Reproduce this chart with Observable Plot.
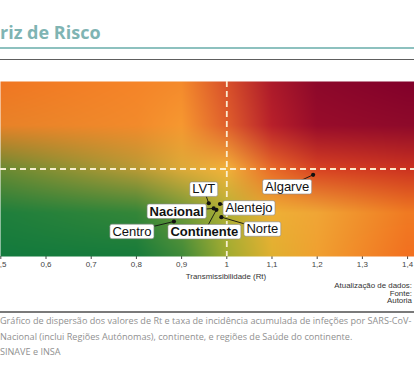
<!DOCTYPE html>
<html>
<head>
<meta charset="utf-8">
<script src="https://cdn.jsdelivr.net/npm/d3@7"></script>
<script src="https://cdn.jsdelivr.net/npm/@observablehq/plot@0.6"></script>
<style>
html, body { margin: 0; padding: 0; background: #fff; }
body { width: 414px; height: 371px; overflow: hidden; position: relative; font-family: "Open Sans", sans-serif; }
#title { position: absolute; left: 0; top: 19px; font-size: 18px; font-weight: 700; color: #7fb4b3; white-space: nowrap; line-height: 26px; }
#rule1 { position: absolute; left: 0; top: 47px; width: 414px; height: 2px; background: #8dc1bf; }
#rule2 { position: absolute; left: 0; top: 59px; width: 414px; height: 1px; background: #5e5e5e; }
#chart { position: absolute; left: 0; top: 81px; }
#xlabel { position: absolute; top: 272px; left: 226px; transform: translateX(-50%); font-family: "Liberation Sans", Arial, sans-serif; font-size: 7.9px; color: #333; white-space: nowrap; }
#notes { position: absolute; top: 282px; right: 2px; text-align: right; font-family: "Liberation Sans", Arial, sans-serif; font-size: 7.9px; line-height: 7.6px; color: #333; }
#rule3 { position: absolute; left: 0; top: 311px; width: 414px; height: 2px; background: #7a7a7a; }
#caption { position: absolute; left: 0; top: 313px; width: 414px; font-size: 9.1px; line-height: 15.5px; color: #909090; white-space: nowrap; }
</style>
</head>
<body>
<div id="title"></div>
<div id="rule1"></div>
<div id="rule2"></div>
<div id="chart"></div>
<div id="xlabel"></div>
<div id="notes"></div>
<div id="rule3"></div>
<div id="caption"></div>
<script>
// ---- data ----
const titleText = "riz de Risco";
const regions = ["Algarve", "LVT", "Alentejo", "Nacional", "Continente", "Norte", "Centro"];
const rtValues = [1.191, 0.960, 0.985, 0.971, 0.977, 0.988, 0.883];
const incidenceValues = [112, 73, 72, 66, 64, 54, 48];
const aggregates = ["Nacional", "Continente"];
const rtThreshold = 1;
const incidenceThreshold = 120;
const xTicks = [0.5, 0.6, 0.7, 0.8, 0.9, 1, 1.1, 1.2, 1.3, 1.4];
const xAxisLabel = "Transmissibilidade (Rt)";
const notesLines = ["Atualização de dados:", "Fonte:", "Autoria"];
const captionLines = [
  "Gráfico de dispersão dos valores de Rt e taxa de incidência acumulada de infeções por SARS-CoV-",
  "Nacional (inclui Regiões Autónomas), continente, e regiões de Saúde do continente.",
  "SINAVE e INSA"
];
// background risk gradient: colour grid (rows: incidence, columns: Rt)
const gradRt = [0.5, 0.8, 0.9, 1.0, 1.1, 1.2, 1.4];
const gradInc = [0, 60, 120, 180, 240];
const gradColors = [
  ["#137a3d", "#177b3b", "#3e8a38", "#a0ab30", "#e0b030", "#f0a030", "#f27020"],
  ["#1f7f3c", "#348638", "#6a9838", "#b0b035", "#eeb035", "#f0a535", "#f07a22"],
  ["#6a8a32", "#b89a35", "#dcaa38", "#f2b23a", "#e86a28", "#d84222", "#cc3320"],
  ["#e88228", "#f28a2b", "#f69830", "#e0602c", "#b8202a", "#980c2a", "#8e0a2a"],
  ["#f07622", "#f58428", "#f48a2c", "#d8502a", "#ac1a2a", "#8c082a", "#82002a"]
];
// label nudges in pixels (layout of the repelled labels)
const labelNudge = [[-26, 12], [-5, -14], [29, 4], [-37, 3], [-12, 22], [41, 12], [-42, 10]];

// ---- layout ----
const W = 414, plotH = 175, marginBottom = 30;
const xDomain = [0.4993, 1.4153];
const yDomain = [0, 240];
const xs = d3.scaleLinear(xDomain, [0, W]);
const ys = d3.scaleLinear(yDomain, [plotH, 0]);

const rgbGrid = gradColors.map(r => r.map(c => d3.rgb(c)));
function locate(arr, v) {
  if (v <= arr[0]) return [0, 0];
  for (let i = 0; i < arr.length - 1; i++) {
    if (v <= arr[i + 1]) return [i, (v - arr[i]) / (arr[i + 1] - arr[i])];
  }
  return [arr.length - 2, 1];
}
function bg(x, y) {
  const [i, tx] = locate(gradRt, x);
  const [j, ty] = locate(gradInc, y);
  const c00 = rgbGrid[j][i], c01 = rgbGrid[j][i + 1], c10 = rgbGrid[j + 1][i], c11 = rgbGrid[j + 1][i + 1];
  const mix = k => (c00[k] * (1 - tx) + c01[k] * tx) * (1 - ty) + (c10[k] * (1 - tx) + c11[k] * tx) * ty;
  return `rgb(${Math.round(mix("r"))},${Math.round(mix("g"))},${Math.round(mix("b"))})`;
}

const rows = regions.map((name, i) => {
  const px = xs(rtValues[i]) + labelNudge[i][0];
  const py = ys(incidenceValues[i]) + labelNudge[i][1];
  return {name, rt: rtValues[i], inc: incidenceValues[i], lx: xs.invert(px), ly: ys.invert(py), bold: aggregates.includes(name)};
});

const fmt = d => String(d).replace(".", ",");

const chart = Plot.plot({
  width: W,
  height: plotH + marginBottom,
  marginLeft: 0, marginRight: 0, marginTop: 0, marginBottom,
  x: {domain: xDomain, ticks: xTicks, tickFormat: fmt, tickSize: 3, tickPadding: 2, label: null},
  y: {domain: yDomain, axis: null},
  color: {type: "identity"},
  style: {fontFamily: "'Liberation Sans', Arial, sans-serif", fontSize: "8px", color: "#444", background: "transparent"},
  marks: [
    Plot.raster({fill: bg, x1: xDomain[0], x2: xDomain[1], y1: yDomain[0], y2: yDomain[1], pixelSize: 1}),
    Plot.ruleX([rtThreshold], {stroke: "#fbf3d9", strokeWidth: 1.8, strokeDasharray: "6,4", strokeOpacity: 0.95}),
    Plot.ruleY([incidenceThreshold], {stroke: "#fbf3d9", strokeWidth: 1.8, strokeDasharray: "6,4", strokeOpacity: 0.95}),
    Plot.link(rows, {x1: "rt", y1: "inc", x2: "lx", y2: "ly", stroke: "#111", strokeWidth: 0.9}),
    Plot.dot(rows, {x: "rt", y: "inc", r: 2.1, fill: "#111", stroke: "none"}),
    Plot.text(rows.filter(d => !d.bold), {x: "lx", y: "ly", text: "name", fontSize: 13, fill: "#111", className: "lbl"}),
    Plot.text(rows.filter(d => d.bold), {x: "lx", y: "ly", text: "name", fontSize: 13, fontWeight: "bold", fill: "#111", className: "lbl"})
  ]
});
document.getElementById("chart").appendChild(chart);

// white boxes behind labels
chart.querySelectorAll(".lbl text").forEach(t => {
  const b = t.getBBox();
  const r = document.createElementNS("http://www.w3.org/2000/svg", "rect");
  r.setAttribute("x", b.x - 2.5);
  r.setAttribute("y", b.y + 0.5);
  r.setAttribute("width", b.width + 5);
  r.setAttribute("height", b.height - 0.5);
  r.setAttribute("rx", 2);
  r.setAttribute("fill", "#fff");
  r.setAttribute("stroke", "#8a8a8a");
  r.setAttribute("stroke-width", 0.6);
  if (t.getAttribute("transform")) r.setAttribute("transform", t.getAttribute("transform"));
  t.parentNode.insertBefore(r, t);
});

document.getElementById("title").textContent = titleText;
document.getElementById("xlabel").textContent = xAxisLabel;
document.getElementById("notes").innerHTML = notesLines.map(s => `<div>${s}</div>`).join("");
document.getElementById("caption").innerHTML = captionLines.map(s => `<div>${s}</div>`).join("");
</script>
</body>
</html>
